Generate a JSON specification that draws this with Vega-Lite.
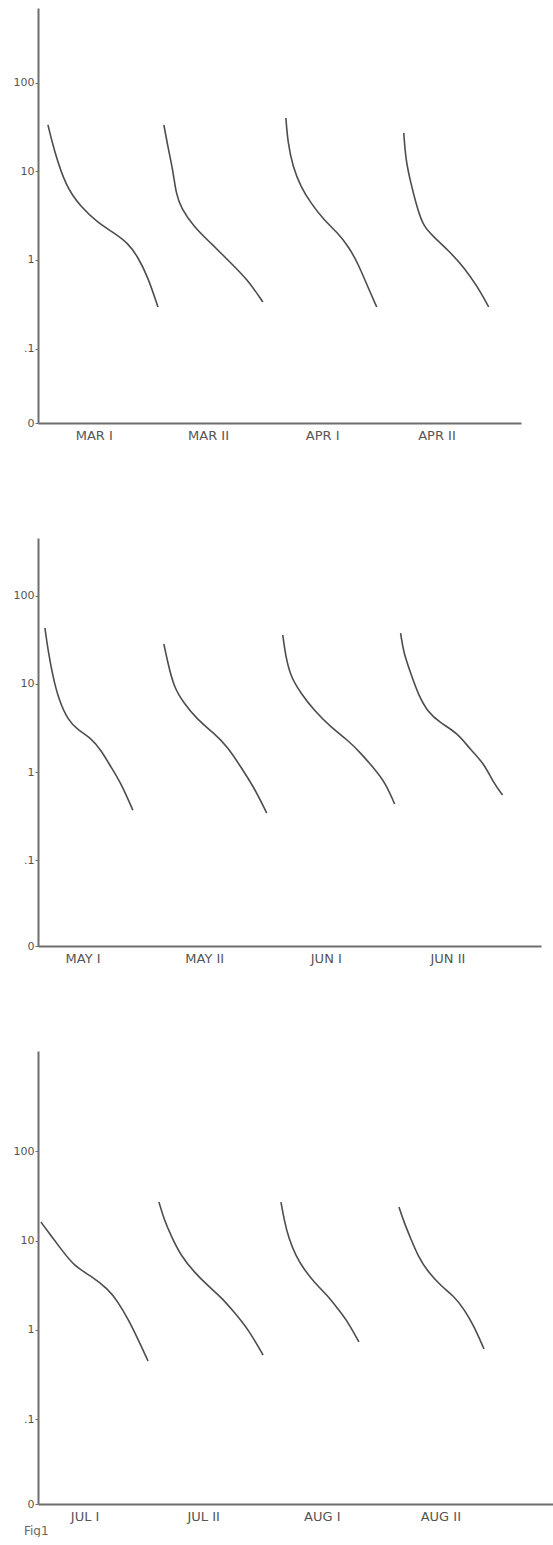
{
  "$schema": "https://vega.github.io/schema/vega-lite/v6.json",
  "background": "white",
  "padding": {"left": 13, "top": 8, "right": 0, "bottom": 0},
  "spacing": 96,
  "title": {"text": "Fig1", "orient": "bottom", "anchor": "start", "frame": "bounds", "offset": 3, "dx": 11, "fontSize": 12, "fontWeight": "normal", "color": "#666666", "font": "DejaVu Sans"},
  "config": {
    "view": {"stroke": null},
    "font": "DejaVu Sans",
    "axis": {"grid": false, "title": null, "domainColor": "#6e6e6e", "domainWidth": 2, "labelColor": "#555555", "labelFont": "DejaVu Sans", "labelFontSize": 12, "labelFlush": false, "labelOverlap": false, "tickColor": "#6e6e6e"},
    "axisX": {"ticks": false, "labelPadding": 6, "labelFontSize": 13},
    "axisY": {"tickSize": 3, "labelPadding": 1, "labelFontSize": 11}
  },
  "data": {"values": [
    {"panel": 1, "period": "MAR I", "x": 0.599, "v": 33.3},
    {"panel": 1, "period": "MAR I", "x": 0.652, "v": 17.4},
    {"panel": 1, "period": "MAR I", "x": 0.757, "v": 6.65},
    {"panel": 1, "period": "MAR I", "x": 0.888, "v": 3.96},
    {"panel": 1, "period": "MAR I", "x": 1.037, "v": 2.61},
    {"panel": 1, "period": "MAR I", "x": 1.177, "v": 2.02},
    {"panel": 1, "period": "MAR I", "x": 1.299, "v": 1.55},
    {"panel": 1, "period": "MAR I", "x": 1.387, "v": 1.08},
    {"panel": 1, "period": "MAR I", "x": 1.474, "v": 0.643},
    {"panel": 1, "period": "MAR I", "x": 1.562, "v": 0.295},
    {"panel": 1, "period": "MAR II", "x": 1.614, "v": 33.3},
    {"panel": 1, "period": "MAR II", "x": 1.649, "v": 18.8},
    {"panel": 1, "period": "MAR II", "x": 1.693, "v": 10.3},
    {"panel": 1, "period": "MAR II", "x": 1.719, "v": 5.69},
    {"panel": 1, "period": "MAR II", "x": 1.763, "v": 3.86},
    {"panel": 1, "period": "MAR II", "x": 1.877, "v": 2.36},
    {"panel": 1, "period": "MAR II", "x": 2.025, "v": 1.55},
    {"panel": 1, "period": "MAR II", "x": 2.2, "v": 0.925},
    {"panel": 1, "period": "MAR II", "x": 2.349, "v": 0.595},
    {"panel": 1, "period": "MAR II", "x": 2.48, "v": 0.336},
    {"panel": 1, "period": "APR I", "x": 2.682, "v": 39.9},
    {"panel": 1, "period": "APR I", "x": 2.699, "v": 20.9},
    {"panel": 1, "period": "APR I", "x": 2.743, "v": 11.2},
    {"panel": 1, "period": "APR I", "x": 2.813, "v": 6.65},
    {"panel": 1, "period": "APR I", "x": 2.9, "v": 4.39},
    {"panel": 1, "period": "APR I", "x": 3.014, "v": 2.82},
    {"panel": 1, "period": "APR I", "x": 3.136, "v": 2.02},
    {"panel": 1, "period": "APR I", "x": 3.232, "v": 1.4},
    {"panel": 1, "period": "APR I", "x": 3.311, "v": 0.925},
    {"panel": 1, "period": "APR I", "x": 3.399, "v": 0.496},
    {"panel": 1, "period": "APR I", "x": 3.477, "v": 0.295},
    {"panel": 1, "period": "APR II", "x": 3.714, "v": 27.0},
    {"panel": 1, "period": "APR II", "x": 3.731, "v": 13.4},
    {"panel": 1, "period": "APR II", "x": 3.775, "v": 7.38},
    {"panel": 1, "period": "APR II", "x": 3.836, "v": 3.66},
    {"panel": 1, "period": "APR II", "x": 3.889, "v": 2.36},
    {"panel": 1, "period": "APR II", "x": 3.976, "v": 1.82},
    {"panel": 1, "period": "APR II", "x": 4.099, "v": 1.3},
    {"panel": 1, "period": "APR II", "x": 4.239, "v": 0.834},
    {"panel": 1, "period": "APR II", "x": 4.361, "v": 0.496},
    {"panel": 1, "period": "APR II", "x": 4.457, "v": 0.295},
    {"panel": 2, "period": "MAY I", "x": 0.69, "v": 43.1},
    {"panel": 2, "period": "MAY I", "x": 0.715, "v": 24.2},
    {"panel": 2, "period": "MAY I", "x": 0.756, "v": 12.0},
    {"panel": 2, "period": "MAY I", "x": 0.805, "v": 6.57},
    {"panel": 2, "period": "MAY I", "x": 0.879, "v": 3.89},
    {"panel": 2, "period": "MAY I", "x": 0.961, "v": 3.0},
    {"panel": 2, "period": "MAY I", "x": 1.068, "v": 2.43},
    {"panel": 2, "period": "MAY I", "x": 1.15, "v": 1.78},
    {"panel": 2, "period": "MAY I", "x": 1.233, "v": 1.14},
    {"panel": 2, "period": "MAY I", "x": 1.315, "v": 0.75},
    {"panel": 2, "period": "MAY I", "x": 1.413, "v": 0.37},
    {"panel": 2, "period": "MAY II", "x": 1.668, "v": 28.4},
    {"panel": 2, "period": "MAY II", "x": 1.701, "v": 17.3},
    {"panel": 2, "period": "MAY II", "x": 1.75, "v": 9.22},
    {"panel": 2, "period": "MAY II", "x": 1.832, "v": 6.07},
    {"panel": 2, "period": "MAY II", "x": 1.947, "v": 3.89},
    {"panel": 2, "period": "MAY II", "x": 2.079, "v": 2.77},
    {"panel": 2, "period": "MAY II", "x": 2.194, "v": 1.92},
    {"panel": 2, "period": "MAY II", "x": 2.301, "v": 1.14},
    {"panel": 2, "period": "MAY II", "x": 2.408, "v": 0.676},
    {"panel": 2, "period": "MAY II", "x": 2.514, "v": 0.342},
    {"panel": 2, "period": "JUN I", "x": 2.646, "v": 35.9},
    {"panel": 2, "period": "JUN I", "x": 2.671, "v": 20.2},
    {"panel": 2, "period": "JUN I", "x": 2.712, "v": 12.0},
    {"panel": 2, "period": "JUN I", "x": 2.794, "v": 7.88},
    {"panel": 2, "period": "JUN I", "x": 2.901, "v": 5.05},
    {"panel": 2, "period": "JUN I", "x": 3.04, "v": 3.24},
    {"panel": 2, "period": "JUN I", "x": 3.18, "v": 2.31},
    {"panel": 2, "period": "JUN I", "x": 3.287, "v": 1.64},
    {"panel": 2, "period": "JUN I", "x": 3.394, "v": 1.11},
    {"panel": 2, "period": "JUN I", "x": 3.492, "v": 0.75},
    {"panel": 2, "period": "JUN I", "x": 3.566, "v": 0.433},
    {"panel": 2, "period": "JUN II", "x": 3.615, "v": 37.8},
    {"panel": 2, "period": "JUN II", "x": 3.64, "v": 22.4},
    {"panel": 2, "period": "JUN II", "x": 3.698, "v": 13.3},
    {"panel": 2, "period": "JUN II", "x": 3.755, "v": 7.88},
    {"panel": 2, "period": "JUN II", "x": 3.837, "v": 4.8},
    {"panel": 2, "period": "JUN II", "x": 3.944, "v": 3.6},
    {"panel": 2, "period": "JUN II", "x": 4.084, "v": 2.77},
    {"panel": 2, "period": "JUN II", "x": 4.191, "v": 1.78},
    {"panel": 2, "period": "JUN II", "x": 4.298, "v": 1.27},
    {"panel": 2, "period": "JUN II", "x": 4.38, "v": 0.75},
    {"panel": 2, "period": "JUN II", "x": 4.454, "v": 0.548},
    {"panel": 3, "period": "JUL I", "x": 0.632, "v": 16.1},
    {"panel": 3, "period": "JUL I", "x": 0.717, "v": 11.3},
    {"panel": 3, "period": "JUL I", "x": 0.801, "v": 8.05},
    {"panel": 3, "period": "JUL I", "x": 0.911, "v": 5.2},
    {"panel": 3, "period": "JUL I", "x": 1.054, "v": 4.02},
    {"panel": 3, "period": "JUL I", "x": 1.197, "v": 2.88},
    {"panel": 3, "period": "JUL I", "x": 1.282, "v": 2.06},
    {"panel": 3, "period": "JUL I", "x": 1.366, "v": 1.33},
    {"panel": 3, "period": "JUL I", "x": 1.45, "v": 0.793},
    {"panel": 3, "period": "JUL I", "x": 1.535, "v": 0.45},
    {"panel": 3, "period": "JUL II", "x": 1.627, "v": 27.0},
    {"panel": 3, "period": "JUL II", "x": 1.669, "v": 17.4},
    {"panel": 3, "period": "JUL II", "x": 1.729, "v": 11.3},
    {"panel": 3, "period": "JUL II", "x": 1.813, "v": 6.73},
    {"panel": 3, "period": "JUL II", "x": 1.923, "v": 4.46},
    {"panel": 3, "period": "JUL II", "x": 2.041, "v": 3.11},
    {"panel": 3, "period": "JUL II", "x": 2.15, "v": 2.34},
    {"panel": 3, "period": "JUL II", "x": 2.26, "v": 1.59},
    {"panel": 3, "period": "JUL II", "x": 2.378, "v": 1.03},
    {"panel": 3, "period": "JUL II", "x": 2.505, "v": 0.525},
    {"panel": 3, "period": "AUG I", "x": 2.656, "v": 27.0},
    {"panel": 3, "period": "AUG I", "x": 2.681, "v": 17.4},
    {"panel": 3, "period": "AUG I", "x": 2.723, "v": 10.4},
    {"panel": 3, "period": "AUG I", "x": 2.782, "v": 6.73},
    {"panel": 3, "period": "AUG I", "x": 2.849, "v": 4.81},
    {"panel": 3, "period": "AUG I", "x": 2.934, "v": 3.44},
    {"panel": 3, "period": "AUG I", "x": 3.052, "v": 2.4},
    {"panel": 3, "period": "AUG I", "x": 3.136, "v": 1.72},
    {"panel": 3, "period": "AUG I", "x": 3.221, "v": 1.23},
    {"panel": 3, "period": "AUG I", "x": 3.313, "v": 0.734},
    {"panel": 3, "period": "AUG II", "x": 3.651, "v": 23.8},
    {"panel": 3, "period": "AUG II", "x": 3.693, "v": 16.1},
    {"panel": 3, "period": "AUG II", "x": 3.752, "v": 10.4},
    {"panel": 3, "period": "AUG II", "x": 3.811, "v": 6.73},
    {"panel": 3, "period": "AUG II", "x": 3.895, "v": 4.46},
    {"panel": 3, "period": "AUG II", "x": 4.005, "v": 3.11},
    {"panel": 3, "period": "AUG II", "x": 4.114, "v": 2.4},
    {"panel": 3, "period": "AUG II", "x": 4.199, "v": 1.72},
    {"panel": 3, "period": "AUG II", "x": 4.283, "v": 1.11},
    {"panel": 3, "period": "AUG II", "x": 4.368, "v": 0.613}
  ]},
  "vconcat": [
    {
      "width": 483, "height": 415,
      "transform": [{"filter": "datum.panel == 1"}],
      "mark": {"type": "line", "interpolate": "basis", "color": "#4d4d4d", "strokeWidth": 1.6},
      "encoding": {
        "x": {"field": "x", "type": "quantitative", "scale": {"domain": [0.512, 4.74], "nice": false, "zero": false},
              "axis": {"values": [1, 2, 3, 4], "labelExpr": "['', 'MAR I', 'MAR II', 'APR I', 'APR II'][datum.value]"}},
        "y": {"field": "v", "type": "quantitative", "scale": {"type": "log", "domain": [0.0145, 693], "nice": false},
              "axis": {"values": [0.0145, 0.1, 1, 10, 100], "labelExpr": "datum.value >= 1 ? format(datum.value, 'd') : (datum.value >= 0.09 ? '.1' : '0')"}},
        "detail": {"field": "period"}
      }
    },
    {
      "spacing": 86,
      "vconcat": [
        {
          "width": 503, "height": 408,
          "transform": [{"filter": "datum.panel == 2"}],
          "mark": {"type": "line", "interpolate": "basis", "color": "#4d4d4d", "strokeWidth": 1.6},
          "encoding": {
            "x": {"field": "x", "type": "quantitative", "scale": {"domain": [0.633, 4.77], "nice": false, "zero": false},
                  "axis": {"values": [1, 2, 3, 4], "labelExpr": "['', 'MAY I', 'MAY II', 'JUN I', 'JUN II'][datum.value]"}},
            "y": {"field": "v", "type": "quantitative", "scale": {"type": "log", "domain": [0.0106, 453], "nice": false},
                  "axis": {"values": [0.0106, 0.1, 1, 10, 100], "labelExpr": "datum.value >= 1 ? format(datum.value, 'd') : (datum.value >= 0.09 ? '.1' : '0')"}},
            "detail": {"field": "period"}
          }
        },
        {
          "width": 515, "height": 453,
          "transform": [{"filter": "datum.panel == 3"}],
          "mark": {"type": "line", "interpolate": "basis", "color": "#4d4d4d", "strokeWidth": 1.6},
          "encoding": {
            "x": {"field": "x", "type": "quantitative", "scale": {"domain": [0.607, 4.95], "nice": false, "zero": false},
                  "axis": {"values": [1, 2, 3, 4], "labelExpr": "['', 'JUL I', 'JUL II', 'AUG I', 'AUG II'][datum.value]"}},
            "y": {"field": "v", "type": "quantitative", "scale": {"type": "log", "domain": [0.0113, 1321], "nice": false},
                  "axis": {"values": [0.0113, 0.1, 1, 10, 100], "labelExpr": "datum.value >= 1 ? format(datum.value, 'd') : (datum.value >= 0.09 ? '.1' : '0')"}},
            "detail": {"field": "period"}
          }
        }
      ]
    }
  ]
}
